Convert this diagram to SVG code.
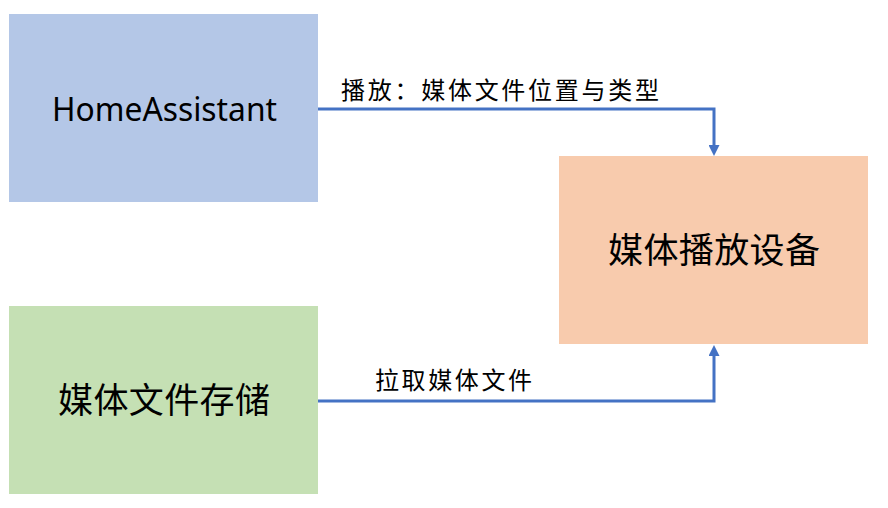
<svg xmlns="http://www.w3.org/2000/svg" width="888" height="508" viewBox="0 0 888 508">
<defs>
<style>
.cn{font-family:"Noto Sans CJK SC","Noto Sans",sans-serif;fill:#000}
.en{font-family:"Noto Sans","Liberation Sans",sans-serif;fill:#000}
.conn{fill:none;stroke:#4472C4;stroke-width:3}
</style>
<marker id="ah" viewBox="0 0 11 11" refX="0" refY="5.5" markerWidth="11" markerHeight="11" markerUnits="userSpaceOnUse" orient="auto">
<path d="M0,0 L11,5.5 L0,11 z" fill="#4472C4"/>
</marker>
</defs>
<rect width="888" height="508" fill="#ffffff"/>
<g id="connectors">
<path class="conn" d="M318,109 H714 V145" marker-end="url(#ah)"/>
<path class="conn" d="M318,401 H714 V356" marker-end="url(#ah)"/>
<text class="cn" x="341" y="99" font-size="24" textLength="318" lengthAdjust="spacing">播放：媒体文件位置与类型</text>
<text class="cn" x="375" y="389" font-size="24" textLength="157" lengthAdjust="spacing">拉取媒体文件</text>
</g>
<g id="home-assistant">
<rect x="9" y="14" width="309" height="188" fill="#B4C7E7"/>
<text class="en" x="52" y="121" font-size="32" textLength="225" lengthAdjust="spacingAndGlyphs">HomeAssistant</text>
</g>
<g id="media-storage">
<rect x="9" y="306" width="309" height="188" fill="#C5E0B4"/>
<text class="cn" x="58" y="413" font-size="35" textLength="212" lengthAdjust="spacing">媒体文件存储</text>
</g>
<g id="media-player">
<rect x="559" y="156" width="309" height="188" fill="#F8CBAD"/>
<text class="cn" x="608" y="263" font-size="35" textLength="212" lengthAdjust="spacing">媒体播放设备</text>
</g>
</svg>
